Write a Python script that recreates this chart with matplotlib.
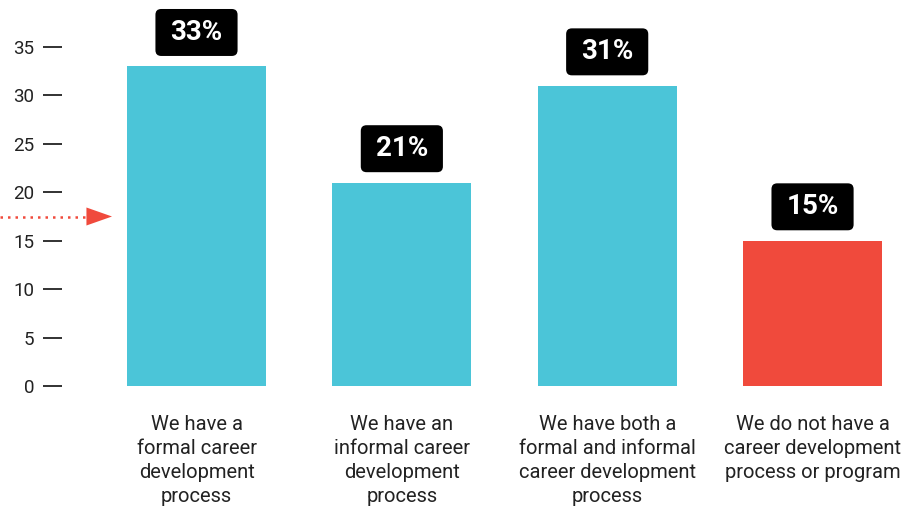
import matplotlib.pyplot as plt
from matplotlib.patches import FancyBboxPatch, Polygon

plt.rcParams['font.family'] = ['Roboto', 'DejaVu Sans']

# survey answers and their shares (percent)
categories = [
    "We have a\nformal career\ndevelopment\nprocess",
    "We have an\ninformal career\ndevelopment\nprocess",
    "We have both a\nformal and informal\ncareer development\nprocess",
    "We do not have a\ncareer development\nprocess or program",
]
values = [33, 21, 31, 15]
bar_colors = ["#4BC5D8", "#4BC5D8", "#4BC5D8", "#F04A3C"]
yticks = [0, 5, 10, 15, 20, 25, 30, 35]
marker_level = 17.5

fig = plt.figure(figsize=(9.07, 5.08), dpi=100)
ax = fig.add_axes([62 / 907, 122 / 508, 845 / 907, 339 / 508])

x = list(range(len(values)))
ax.bar(x, values, width=0.677, color=bar_colors)
ax.set_xlim(-0.655, 3.46)
ax.set_ylim(0, 35)

for s in ax.spines.values():
    s.set_visible(False)
ax.set_xticks([])
ax.set_yticks(yticks)
ax.tick_params(axis='y', direction='out', length=14, width=1.3,
               color='#222222', labelcolor='#222222', labelsize=13.5, pad=6)

# value badges above the bars
for xi, v in zip(x, values):
    yc = v + 3.5
    bw, bh = 0.40, 4.85
    box = FancyBboxPatch((xi - bw / 2, yc - bh / 2), bw, bh,
                         boxstyle="round,pad=0,rounding_size=0.028",
                         mutation_aspect=21.2, fc='black', ec='none',
                         clip_on=False, zorder=3)
    ax.add_patch(box)
    ax.text(xi, yc, f"{v}%", color='white', fontsize=20, fontweight='bold',
            ha='center', va='center', zorder=4, clip_on=False)

# category labels under the bars
for xi, lab in zip(x, categories):
    ax.text(xi, -3.0, lab, ha='center', va='top', fontsize=14.5,
            color='#222222', linespacing=1.33, clip_on=False)

# dotted pointer on the left edge
ax.plot([-0.957, -0.533], [marker_level, marker_level], ls=(0, (1, 2)),
        color='#F04A3C', lw=1.8, clip_on=False)
head = Polygon([(-0.536, marker_level + 0.93), (-0.4115, marker_level),
                (-0.536, marker_level - 0.93)], closed=True,
               fc='#F04A3C', ec='none', clip_on=False)
ax.add_patch(head)

fig.savefig('out.png', dpi=100)
